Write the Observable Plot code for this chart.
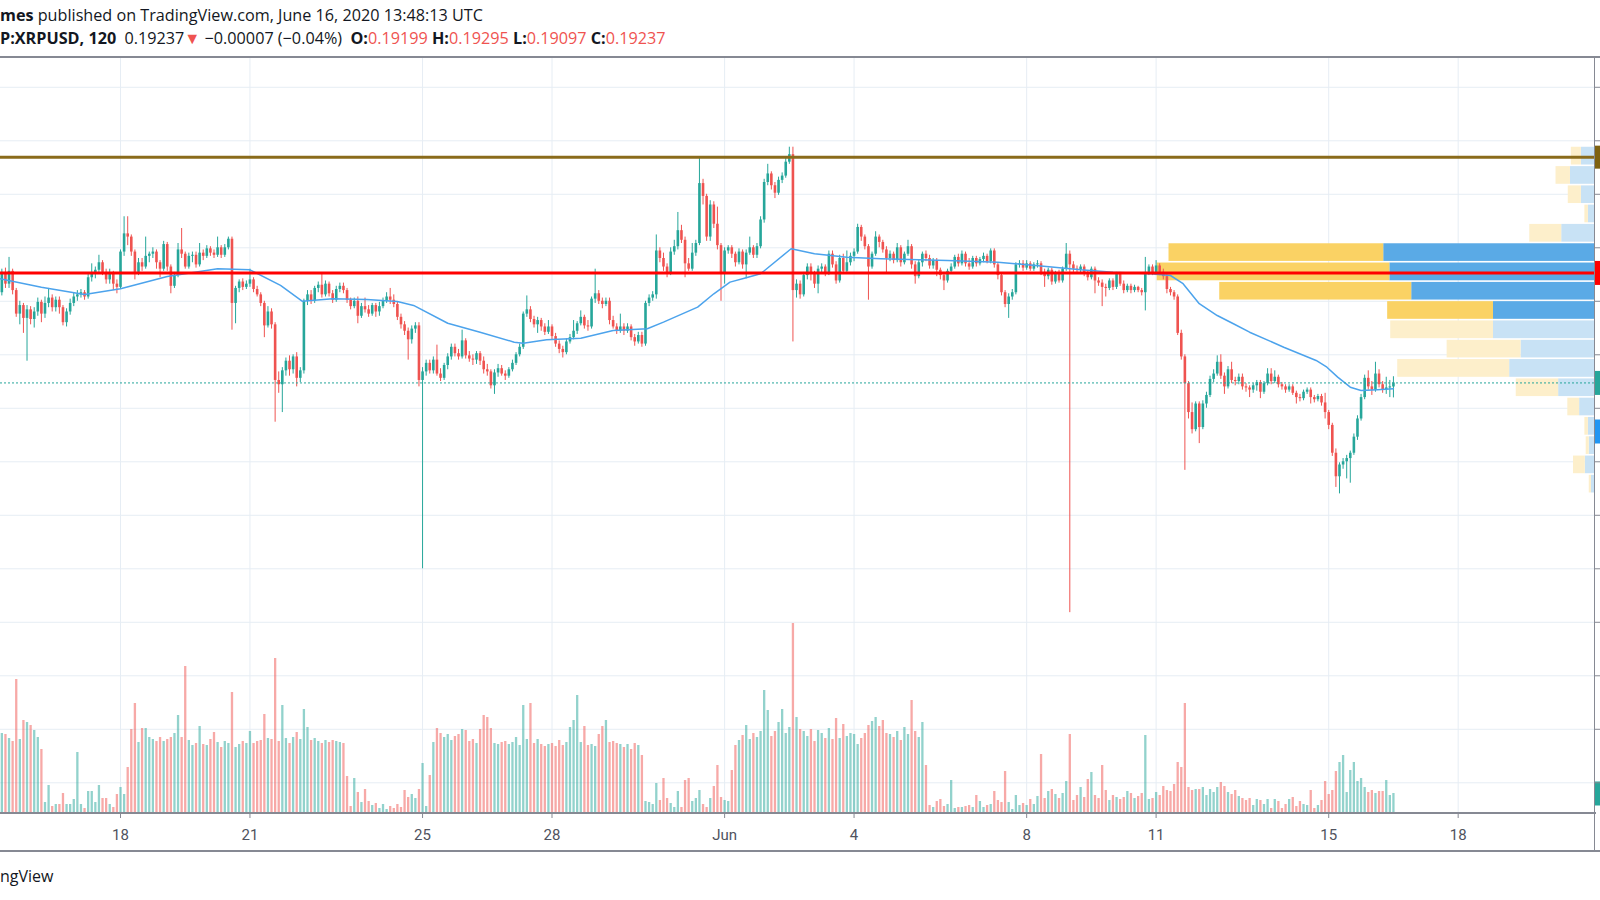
<!DOCTYPE html>
<html><head><meta charset="utf-8">
<script src="https://cdn.jsdelivr.net/npm/d3@7"></script>
<script src="https://cdn.jsdelivr.net/npm/@observablehq/plot@0.6"></script>
<style>
html,body{margin:0;padding:0;background:#fff;}
#page{position:relative;width:1600px;height:900px;overflow:hidden;font-family:"Open Sans",sans-serif;color:#131722;}
.hdr{position:absolute;left:0;white-space:nowrap;font-size:16.2px;line-height:20px;}
#l1{top:5px;} #l2{top:28px;}
.b{font-weight:bold;} .r{color:#ef5350;}
#chart{position:absolute;left:0;top:50px;width:1600px;height:803px;}
#chart svg{position:absolute;left:0;top:0;}
.ln{position:absolute;background:#868993;}
#foot{position:absolute;left:0;top:865px;font-size:16px;line-height:22px;white-space:nowrap;}
</style></head>
<body><div id="page">
<div id="l1" class="hdr"><span class="b">mes</span> published on TradingView.com, June 16, 2020 13:48:13 UTC</div>
<div id="l2" class="hdr"><span class="b">P:XRPUSD, 120</span>&nbsp; 0.19237<span class="r">▼</span> −0.00007 (−0.04%)&nbsp; <span class="b">O:</span><span class="r">0.19199</span> <span class="b">H:</span><span class="r">0.19295</span> <span class="b">L:</span><span class="r">0.19097</span> <span class="b">C:</span><span class="r">0.19237</span></div>
<div id="chart"></div>
<div class="ln" style="left:0;top:56px;width:1600px;height:2px;"></div>
<div class="ln" style="left:0;top:812px;width:1596px;height:2px;"></div>
<div class="ln" style="left:0;top:850px;width:1600px;height:2px;"></div>
<div class="ln" style="left:1594px;top:57px;width:1px;height:794px;"></div>
<div id="foot">ngView</div>
</div>
<script>
// ---------- data (prices in 1/10000 USD, 2-hour bars from 2020-05-15 04:00 UTC) ----------
const firstBar = "2020-05-15T04:00:00Z";
const barHours = 2;
const open = [
2020,2008,2027,2016,2028,2010,1988,1996,1984,1992,
1983,1990,1999,1988,1998,2003,1994,2001,1994,1980,1990,1998,
2004,2006,2008,2004,2022,2026,2029,2036,2027,2020,2026,2016,
2013,2046,2063,2060,2046,2027,2036,2032,2042,2044,2046,2036,
2030,2053,2032,2014,2024,2048,2044,2032,2042,2043,2034,2045,
2042,2049,2045,2043,2050,2043,2050,2058,1998,2012,2018,2013,
2016,2020,2011,2006,1998,1977,1990,1978,1926,1922,1935,1944,
1936,1948,1928,1935,2000,2006,2000,2012,2015,2006,2016,2007,
2001,2011,2014,2010,2001,1995,2000,1986,1995,1992,1988,1996,
1990,1995,2000,2004,2001,1997,1985,1978,1972,1964,1974,1977,
1926,1934,1942,1935,1945,1932,1928,1940,1948,1957,1951,1948,
1963,1949,1946,1945,1951,1944,1936,1934,1921,1933,1937,1932,
1930,1936,1942,1950,1957,1988,1992,1983,1978,1982,1976,1971,
1976,1967,1960,1955,1952,1962,1966,1972,1979,1985,1977,1976,
2002,2007,2000,1997,2000,1982,1976,1972,1976,1972,1976,1966,
1962,1968,1960,1998,2003,2006,2047,2040,2032,2026,2046,2051,
2066,2057,2035,2030,2045,2054,2110,2098,2060,2090,2072,2052,
2025,2047,2050,2044,2036,2046,2034,2045,2050,2043,2051,2076,
2111,2119,2108,2101,2113,2117,2130,2137,2010,2016,2006,2024,
2032,2025,2016,2030,2032,2026,2044,2034,2019,2040,2028,2036,
2042,2046,2069,2060,2051,2032,2044,2060,2055,2048,2040,2044,
2038,2050,2036,2044,2051,2034,2023,2036,2044,2040,2033,2038,
2029,2024,2019,2028,2032,2041,2035,2044,2035,2032,2040,2035,
2039,2042,2037,2047,2034,2024,2008,1997,2004,2008,2034,2035,
2031,2035,2030,2034,2035,2027,2023,2029,2018,2026,2019,2030,
2044,2034,2030,2029,2032,2026,2022,2030,2019,2017,2013,2012,
2019,2013,2025,2016,2010,2014,2010,2013,2010,2008,2027,2032,
2026,2033,2027,2023,2011,2008,2004,1970,1948,1923,1896,1880,
1904,1882,1904,1912,1927,1932,1943,1930,1920,1936,1926,1925,
1929,1920,1919,1917,1921,1924,1915,1923,1932,1925,1929,1922,
1920,1917,1920,1914,1910,1909,1915,1917,1910,1908,1911,1905,
1896,1884,1858,1836,1847,1850,1853,1858,1873,1890,1910,1928,
1920,1917,1932,1922,1917,1919,1919.9];
const high = [
2028,2030,2031,2041,2030,2012,2000,1998,1996,1995,
1994,2003,2001,2004,2012,2006,2004,2004,1996,1993,2002,2008,
2010,2011,2010,2026,2035,2032,2043,2038,2030,2030,2028,2020,
2048,2079,2079,2062,2048,2040,2040,2060,2046,2050,2048,2038,
2056,2055,2034,2027,2054,2068,2046,2045,2046,2046,2054,2048,
2052,2051,2048,2060,2052,2053,2060,2060,2014,2020,2021,2019,
2030,2022,2014,2008,2000,1995,1993,1980,1934,1938,1947,1949,
1950,1952,1938,2002,2010,2010,2014,2018,2026,2019,2018,2010,
2014,2017,2017,2012,2003,2003,2004,1998,2003,1996,1998,1998,
1999,2003,2008,2012,2006,1999,1988,1981,1975,1977,1980,1980,
1938,1945,1945,1948,1959,1937,1942,1951,1960,1960,1955,1973,
1965,1953,1950,1953,1953,1948,1941,1936,1936,1941,1940,1935,
1938,1945,1952,1960,1990,2005,1995,1986,1985,1984,1979,1982,
1978,1970,1963,1958,1965,1969,1982,1981,1991,1987,1982,2004,
2030,2010,2003,2003,2003,1986,1979,1988,1979,1979,1978,1969,
1971,1971,2000,2006,2009,2062,2050,2045,2035,2050,2057,2083,
2071,2060,2040,2054,2057,2134,2114,2100,2094,2093,2088,2054,
2050,2052,2052,2046,2049,2048,2048,2060,2052,2054,2079,2114,
2128,2121,2111,2116,2120,2135,2144,2144,2020,2019,2027,2035,
2035,2028,2033,2035,2034,2047,2047,2037,2043,2044,2047,2045,
2049,2072,2071,2062,2053,2046,2065,2062,2057,2051,2047,2046,
2054,2052,2046,2057,2053,2037,2039,2046,2047,2043,2040,2040,
2031,2027,2030,2035,2043,2044,2047,2046,2040,2042,2042,2041,
2045,2044,2049,2049,2036,2026,2010,2007,2011,2036,2038,2038,
2038,2037,2036,2038,2037,2030,2031,2031,2028,2029,2032,2054,
2047,2037,2033,2034,2034,2028,2032,2032,2022,2020,2016,2021,
2021,2027,2027,2019,2016,2016,2015,2014,2012,2041,2034,2034,
2038,2035,2030,2025,2013,2010,2006,1973,1950,1925,1905,1906,
1906,1907,1915,1930,1936,1949,1950,1933,1939,1943,1929,1932,
1932,1923,1921,1923,1926,1926,1925,1937,1937,1935,1931,1924,
1922,1922,1922,1916,1913,1917,1919,1919,1912,1913,1913,1914,
1898,1886,1862,1849,1853,1856,1860,1876,1893,1913,1931,1935,
1925,1943,1936,1925,1929,1926,1929.5];
const low = [
2005,2005,2012,2012,2006,1985,1978,1970,1944,1978,
1975,1986,1980,1984,1994,1990,1990,1988,1977,1976,1987,1995,
2000,2003,2001,2002,2018,2021,2025,2024,2016,2016,2010,2007,
2011,2042,2052,2042,2020,2024,2028,2030,2036,2040,2030,2022,
2028,2028,2007,2012,2022,2040,2030,2030,2036,2031,2032,2038,
2040,2042,2040,2041,2040,2041,2048,1973,1979,2008,2010,2011,
2013,2008,2004,1995,1966,1975,1974,1887,1914,1896,1930,1930,
1932,1920,1924,1932,1996,1997,1998,2008,2003,2004,2004,1998,
1999,2008,2007,1998,1992,1993,1979,1984,1989,1985,1986,1985,
1986,1993,1998,1997,1994,1982,1974,1968,1945,1960,1970,1920,
1750,1930,1932,1932,1930,1925,1926,1936,1945,1948,1945,1946,
1946,1943,1940,1941,1940,1932,1930,1918,1913,1929,1930,1926,
1928,1934,1940,1948,1955,1985,1980,1975,1970,1972,1968,1969,
1964,1957,1951,1947,1950,1960,1964,1969,1977,1974,1972,1974,
1998,1997,1993,1995,1978,1974,1969,1970,1968,1970,1963,1958,
1960,1957,1958,1995,2000,2002,2036,2028,2022,2024,2043,2048,
2054,2022,2028,2028,2042,2052,2090,2056,2056,2068,2048,2000,
2016,2044,2040,2032,2034,2030,2021,2043,2040,2040,2049,2073,
2108,2104,2096,2099,2110,2115,2128,1962,2003,2002,2004,2020,
2019,2012,2007,2026,2023,2024,2031,2016,2017,2025,2025,2033,
2037,2044,2056,2048,2001,2030,2042,2050,2045,2026,2037,2035,
2036,2032,2034,2042,2030,2016,2021,2032,2037,2030,2030,2023,
2020,2010,2017,2026,2030,2032,2033,2032,2029,2030,2032,2033,
2036,2035,2035,2031,2020,2005,1994,1984,2001,2006,2031,2028,
2029,2028,2028,2031,2024,2013,2020,2015,2016,2017,2017,2028,
1709,2027,2026,2025,2023,2019,2020,2007,2014,1995,2004,2010,
2010,2011,2014,2007,2008,2007,2008,2008,2005,1991,2024,2024,
2024,2024,2020,2007,2005,2001,1968,1945,1842,1890,1876,1878,
1867,1880,1900,1910,1924,1930,1927,1913,1918,1923,1921,1922,
1917,1915,1910,1914,1916,1909,1913,1921,1922,1923,1919,1917,
1914,1915,1912,1904,1906,1907,1913,1904,1905,1906,1902,1890,
1880,1855,1826,1820,1843,1834,1830,1856,1870,1888,1908,1917,
1912,1915,1919,1914,1913,1910,1909.7];
const close = [
2008,2027,2016,2028,2010,1988,1996,1984,1992,1983,
1990,1999,1988,1998,2003,1994,2001,1994,1980,1990,1998,2004,
2006,2008,2004,2022,2026,2029,2036,2027,2020,2026,2016,2013,
2046,2063,2060,2046,2027,2036,2032,2042,2044,2046,2036,2030,
2053,2032,2014,2024,2048,2044,2032,2042,2043,2034,2045,2042,
2049,2045,2043,2050,2043,2050,2058,1998,2012,2018,2013,2016,
2020,2011,2006,1998,1977,1990,1978,1926,1922,1935,1944,1936,
1948,1928,1935,2000,2006,2000,2012,2015,2006,2016,2007,2001,
2011,2014,2010,2001,1995,2000,1986,1995,1992,1988,1996,1990,
1995,2000,2004,2001,1997,1985,1978,1972,1964,1974,1977,1926,
1934,1942,1935,1945,1932,1928,1940,1948,1957,1951,1948,1963,
1949,1946,1945,1951,1944,1936,1934,1921,1933,1937,1932,1930,
1936,1942,1950,1957,1988,1992,1983,1978,1982,1976,1971,1976,
1967,1960,1955,1952,1962,1966,1972,1979,1985,1977,1976,2002,
2007,2000,1997,2000,1982,1976,1972,1976,1972,1976,1966,1962,
1968,1960,1998,2003,2006,2047,2040,2032,2026,2046,2051,2066,
2057,2035,2030,2045,2054,2110,2098,2060,2090,2072,2052,2025,
2047,2050,2044,2036,2046,2034,2045,2050,2043,2051,2076,2111,
2119,2108,2101,2113,2117,2130,2137,2010,2016,2006,2024,2032,
2025,2016,2030,2032,2026,2044,2034,2019,2040,2028,2036,2042,
2046,2069,2060,2051,2032,2044,2060,2055,2048,2040,2044,2038,
2050,2036,2044,2051,2034,2023,2036,2044,2040,2033,2038,2029,
2024,2019,2028,2032,2041,2035,2044,2035,2032,2040,2035,2039,
2042,2037,2047,2034,2024,2008,1997,2004,2008,2034,2035,2031,
2035,2030,2034,2035,2027,2023,2029,2018,2026,2019,2030,2044,
2034,2030,2029,2032,2026,2022,2030,2019,2017,2013,2012,2019,
2013,2025,2016,2010,2014,2010,2013,2010,2008,2027,2032,2026,
2033,2027,2023,2011,2008,2004,1970,1948,1923,1896,1880,1904,
1882,1904,1912,1927,1932,1943,1930,1920,1936,1926,1925,1929,
1920,1919,1917,1921,1924,1915,1923,1932,1925,1929,1922,1920,
1917,1920,1914,1910,1909,1915,1917,1910,1908,1911,1905,1896,
1884,1858,1836,1847,1850,1853,1858,1873,1890,1910,1928,1920,
1917,1932,1922,1917,1919,1920,1923.7];
// volume, millions of XRP
const volume = [
7.6,8.0,7.9,7.5,7.2,13.4,7.4,9.3,9.1,8.8,
8.3,7.6,6.4,1.1,2.8,0.7,0.9,0.9,2.0,0.9,0.9,1.4,
6.1,0.9,0.5,2.2,2.2,1.1,2.8,1.5,1.5,0.9,0.6,1.9,
2.6,1.9,4.6,8.4,11.0,7.1,8.5,8.5,7.6,7.4,7.2,7.6,
7.2,7.4,7.6,8.0,9.8,7.6,14.7,7.3,6.8,7.0,8.7,6.9,
6.8,7.4,8.1,7.1,6.6,7.2,7.0,12.1,6.6,6.9,7.2,7.0,
8.2,7.0,7.2,7.3,9.9,7.5,7.4,15.5,7.2,10.8,7.5,7.0,
7.6,8.1,7.4,10.4,8.6,7.3,7.5,7.2,7.0,7.3,7.1,7.3,
7.2,7.1,7.0,3.7,0.7,3.5,2.1,1.1,2.4,1.2,0.8,1.0,
0.5,0.9,0.4,0.7,0.5,0.9,0.6,2.3,1.6,1.9,1.5,2.4,
5.0,0.7,3.8,7.1,8.5,8.0,7.6,7.9,7.3,7.7,7.9,8.4,
8.3,7.2,7.4,7.0,8.4,9.8,9.6,8.5,7.0,6.9,7.1,7.2,
6.9,7.1,7.6,6.8,10.8,7.4,11.0,7.0,7.4,6.9,6.7,6.9,
7.0,6.7,7.3,6.8,7.1,8.6,9.3,11.8,7.1,8.7,6.8,6.9,
6.7,7.9,8.7,9.3,7.1,7.2,7.0,6.9,6.6,6.9,6.4,7.0,
6.8,5.8,1.2,1.1,0.9,3.0,1.3,3.5,1.5,1.0,0.6,2.2,
0.6,3.3,3.5,1.2,1.5,2.3,0.9,0.6,1.5,2.7,4.8,1.6,
1.3,1.2,4.3,6.8,7.3,7.8,8.8,7.4,8.0,7.6,8.2,12.3,
10.3,7.7,8.2,9.1,10.4,8.0,8.6,19.0,9.6,8.4,8.2,7.7,
8.4,7.2,8.3,8.0,7.5,8.5,7.4,9.5,7.5,8.9,7.7,8.0,
7.9,6.9,7.5,8.0,8.8,9.2,9.6,8.7,9.3,8.0,7.9,7.6,
8.2,7.3,8.6,7.9,11.3,8.2,7.6,9.1,4.8,0.8,0.6,1.2,
1.4,0.7,0.9,3.3,0.5,0.6,0.6,0.7,0.8,0.6,1.8,1.2,
0.6,0.8,0.9,2.2,1.3,1.1,4.2,1.1,0.4,1.8,0.8,1.0,
0.8,1.4,0.9,1.7,5.9,1.5,2.2,2.4,1.9,1.5,2.0,3.2,
7.9,1.3,1.8,2.6,1.6,3.4,4.1,1.8,1.5,4.8,2.3,1.3,
1.8,1.6,1.4,1.6,2.2,2.0,1.5,1.7,2.0,7.8,1.4,1.5,
2.1,1.8,2.7,2.3,2.2,2.9,5.1,4.6,11.0,2.6,2.3,2.4,
2.4,2.6,1.8,2.4,2.1,2.6,3.1,2.7,2.1,1.9,2.3,1.7,
1.5,1.3,1.5,0.8,1.4,1.3,0.9,1.4,0.5,1.4,1.2,0.5,
0.9,1.4,1.6,0.7,1.2,0.9,0.8,2.3,0.5,0.8,1.3,3.2,
1.9,2.3,4.2,5.1,5.8,2.1,4.3,5.1,3.2,3.5,2.6,2.1,
2.3,2.0,2.2,2.2,3.3,1.8,2.0];

// moving average (blue line)
const maTime = ["2020-05-15T05:00","2020-05-16T04:00","2020-05-17T04:00","2020-05-18T00:00","2020-05-19T02:00","2020-05-20T06:00","2020-05-21T00:00","2020-05-21T17:00","2020-05-22T05:00","2020-05-22T22:00","2020-05-23T17:00","2020-05-24T10:00","2020-05-24T19:00","2020-05-25T14:00","2020-05-26T08:00","2020-05-27T03:00","2020-05-27T08:00","2020-05-27T21:00","2020-05-28T16:00","2020-05-29T10:00","2020-05-30T05:00","2020-05-30T14:00","2020-05-31T09:00","2020-05-31T18:00","2020-06-01T03:00","2020-06-01T12:00","2020-06-01T20:00","2020-06-02T13:00","2020-06-03T02:00","2020-06-03T20:00","2020-06-04T15:00","2020-06-06T04:00","2020-06-07T08:00","2020-06-08T11:00","2020-06-09T06:00","2020-06-10T00:00","2020-06-10T21:00","2020-06-11T08:00","2020-06-11T15:00","2020-06-12T00:00","2020-06-12T10:00","2020-06-12T19:00","2020-06-13T04:00","2020-06-13T23:00","2020-06-14T17:00","2020-06-14T23:00","2020-06-15T05:00","2020-06-15T12:00","2020-06-15T18:00","2020-06-16T03:00","2020-06-16T12:00"];
const maValue = [0.20210,0.20132,0.20064,0.20117,0.20232,0.20304,0.20294,0.20148,0.20001,0.20023,0.20017,0.19998,0.19961,0.19795,0.19711,0.19618,0.19608,0.19640,0.19655,0.19727,0.19743,0.19805,0.19945,0.20070,0.20179,0.20220,0.20257,0.20491,0.20444,0.20412,0.20397,0.20381,0.20365,0.20325,0.20294,0.20272,0.20257,0.20241,0.20164,0.19977,0.19867,0.19790,0.19711,0.19571,0.19447,0.19384,0.19291,0.19197,0.19166,0.19173,0.19182];

// volume profile rows (price bins, up / down volume in relative units, value-area flag)
const vpLow  = [0.21266,0.21086,0.20906,0.20726,0.20545,0.20365,0.20184,0.20004,0.19824,0.19643,0.19463,0.19282,0.19102,0.18922,0.18741,0.18561,0.18381,0.18201];
const vpHigh = [0.21447,0.21266,0.21086,0.20906,0.20726,0.20545,0.20365,0.20184,0.20004,0.19824,0.19643,0.19463,0.19282,0.19102,0.18922,0.18741,0.18561,0.18381];
const vpUp   = [3.0,5.5,3.0,1.4,7.5,48.2,46.8,41.8,23.1,23.1,16.8,19.4,8.2,3.4,1.4,1.2,2.1,0.7];
const vpDown = [2.3,3.3,3.0,0.8,7.3,49.1,53.2,43.9,24.2,23.5,16.9,25.6,9.7,2.7,0.8,0.7,2.7,0.5];
const vpValueArea = [0,0,0,0,0,1,1,1,1,0,0,0,0,0,0,0,0,0];

// levels
const brownLevel = 0.21347;
const redLevel = 0.20265;
const lastPrice = 0.19237;
const blueTabLevel = 0.18783;
const priceGrid = [0.155,0.16,0.165,0.17,0.175,0.18,0.185,0.19,0.195,0.2,0.205,0.21,0.215,0.22];
const dayTicks = ["2020-05-18","2020-05-21","2020-05-25","2020-05-28","2020-06-01","2020-06-04","2020-06-08","2020-06-11","2020-06-15","2020-06-18"];
const dayLabels = ["18","21","25","28","Jun","4","8","11","15","18"];
const xDomainText = ["2020-05-15T05:15:00Z","2020-06-21T03:50:00Z"];
const priceDomain = [0.15213, 0.22269];
const volumeDomain = [0, 75.5];

// ---------- build ----------
const UP = "#26a69a", DN = "#ef5350", GRID = "#e6edf4", AXIS = "#868993";
const T0 = Date.parse(firstBar), STEP = barHours * 3600e3;
const bars = open.map((o, i) => ({
  t: new Date(T0 + i * STEP), o: o / 1e4, h: high[i] / 1e4, l: low[i] / 1e4, c: close[i] / 1e4,
  v: volume[i], up: close[i] >= o
}));
const ma = maTime.map((t, i) => ({t: new Date(t + ":00Z"), v: maValue[i]}));
const ticks = dayTicks.map(d => new Date(d + "T00:00:00Z"));
const tickLabel = new Map(ticks.map((d, i) => [+d, dayLabels[i]]));
const xDomain = xDomainText.map(d => new Date(d));
const vpRows = [];
vpLow.forEach((lo, i) => {
  const va = vpValueArea[i] === 1;
  vpRows.push({y1: lo, y2: vpHigh[i], x1: 0, x2: vpUp[i], fill: va ? "#5aaae6" : "#c8e2f5"});
  vpRows.push({y1: lo, y2: vpHigh[i], x1: vpUp[i], x2: vpUp[i] + vpDown[i], fill: va ? "#fad264" : "#fdefcb"});
});

const common = {
  width: 1600, height: 803, marginTop: 8, marginBottom: 40, marginLeft: 0, marginRight: 6,
  style: {position: "absolute", left: "0px", top: "0px", background: "transparent", overflow: "visible", fontFamily: "Roboto, sans-serif"}
};
const chart = document.getElementById("chart");

// layer 1: grid
chart.appendChild(Plot.plot({...common,
  x: {type: "utc", domain: xDomain, axis: null},
  y: {domain: priceDomain, axis: null},
  marks: [
    Plot.ruleY(priceGrid, {stroke: GRID, strokeWidth: 1}),
    Plot.ruleX(ticks, {stroke: GRID, strokeWidth: 1})
  ]
}));

// layer 2: volume
chart.appendChild(Plot.plot({...common,
  x: {type: "utc", domain: xDomain, axis: null},
  y: {domain: volumeDomain},
  color: {type: "identity"},
  marks: [
    Plot.ruleX(bars, {x: "t", y1: 0, y2: "v", stroke: d => d.up ? UP : DN, strokeOpacity: 0.5, strokeWidth: 2.3, clip: true}),
    Plot.axisY([volume[volume.length - 1]], {anchor: "right", tickSize: 6, strokeWidth: 24, stroke: UP, tickFormat: () => "", label: null})
  ]
}));

// layer 3: volume profile
chart.appendChild(Plot.plot({...common,
  x: {domain: [0, 100], range: [1594, 1156.7], axis: null},
  y: {domain: priceDomain, axis: null},
  color: {type: "identity"},
  marks: [
    Plot.rect(vpRows, {x1: "x1", x2: "x2", y1: "y1", y2: "y2", fill: "fill", insetTop: 0.8, insetBottom: 0.8})
  ]
}));

// layer 4: price
chart.appendChild(Plot.plot({...common,
  x: {type: "utc", domain: xDomain},
  y: {domain: priceDomain},
  color: {type: "identity"},
  marks: [
    Plot.ruleX(bars, {x: "t", y1: "l", y2: "h", stroke: d => d.up ? UP : DN, strokeWidth: 1, clip: true}),
    Plot.ruleX(bars, {x: "t", y1: "o", y2: "c", stroke: d => d.up ? UP : DN, strokeWidth: 2.6, clip: true}),
    Plot.line(ma, {x: "t", y: "v", stroke: "#4ca3ec", strokeWidth: 1.5}),
    Plot.ruleY([lastPrice], {stroke: UP, strokeWidth: 1, strokeDasharray: "2,2"}),
    Plot.ruleY([brownLevel], {stroke: "#8a6b1b", strokeWidth: 3}),
    Plot.ruleY([redLevel], {stroke: "#ff0000", strokeWidth: 3}),
    Plot.axisY(priceGrid, {anchor: "right", tickSize: 5, stroke: AXIS, tickFormat: () => "", label: null}),
    Plot.axisY([brownLevel], {anchor: "right", tickSize: 6, strokeWidth: 23, stroke: "#7f620f", tickFormat: () => "", label: null}),
    Plot.axisY([redLevel], {anchor: "right", tickSize: 6, strokeWidth: 24, stroke: "#ff0000", tickFormat: () => "", label: null}),
    Plot.axisY([lastPrice], {anchor: "right", tickSize: 6, strokeWidth: 24, stroke: UP, tickFormat: () => "", label: null}),
    Plot.axisY([blueTabLevel], {anchor: "right", tickSize: 6, strokeWidth: 24, stroke: "#2196f3", tickFormat: () => "", label: null}),
    Plot.axisX(ticks, {anchor: "bottom", tickSize: 5, tickPadding: 11, stroke: AXIS, fill: "#50535e", fontSize: 15, tickFormat: d => tickLabel.get(+d), label: null})
  ]
}));
</script>
</body></html>
